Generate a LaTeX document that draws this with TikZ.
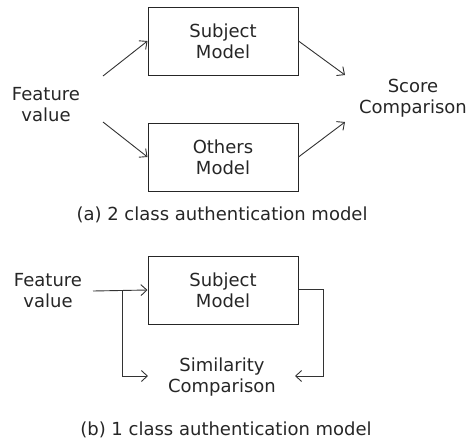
\documentclass[tikz,border=0pt]{standalone}
\usepackage{fontspec}
\setmainfont{DejaVu Sans}
\usetikzlibrary{arrows.meta}
\begin{document}
\begin{tikzpicture}[x=1pt,y=-1pt,
  box/.style={draw=black!85,line width=1pt,minimum width=150pt,minimum height=68pt,inner sep=0pt,align=center,font=\fontsize{18}{21}\selectfont,text=black!85},
  lbl/.style={align=center,inner sep=0pt,font=\fontsize{18}{21}\selectfont,text=black!85},
  captext/.style={inner sep=0pt,font=\fontsize{18}{21}\selectfont,text=black!85},
  arr/.style={draw=black!80,line width=0.9pt,-{Straight Barb[length=6pt,width=11pt]}}]
\useasboundingbox (0,0) rectangle (474,442);
% (a)
\node[box] (s1) at (223,41) {Subject\\Model};
\node[box] (o1) at (223,157) {Others\\Model};
\node[lbl] (f1) at (46,105) {Feature\\value};
\node[lbl] (c1) at (413,98) {Score\\Comparison};
\node[captext] (capa) at (222,215) {(a) 2 class authentication model};
\coordinate (f1a) at (103,76);
\coordinate (f1b) at (103,122);
\coordinate (c1a) at (345,75);
\coordinate (c1b) at (345,122);
\draw[arr] (f1a) -- (s1.west);
\draw[arr] (f1b) -- (o1.west);
\draw[arr] (s1.east) -- (c1a);
\draw[arr] (o1.east) -- (c1b);
% (b)
\node[box] (s2) at (223,290) {Subject\\Model};
\node[lbl] (f2) at (48,291) {Feature\\value};
\node[lbl] (c2) at (222,377) {Similarity\\Comparison};
\node[captext] (capb) at (226,430) {(b) 1 class authentication model};
\coordinate (fin) at (93,291);
\coordinate (br) at (122,291);
\coordinate (brd) at (122,376);
\coordinate (ta) at (148,376);
\coordinate (ro) at (323,289);
\coordinate (rd) at (323,376);
\coordinate (tb) at (295,376);
\draw[arr] (fin) -- (s2.west);
\draw[arr] (br) -- (brd) -- (ta);
\draw[arr] (s2.east |- ro) -- (ro) -- (rd) -- (tb);
\end{tikzpicture}
\end{document}
